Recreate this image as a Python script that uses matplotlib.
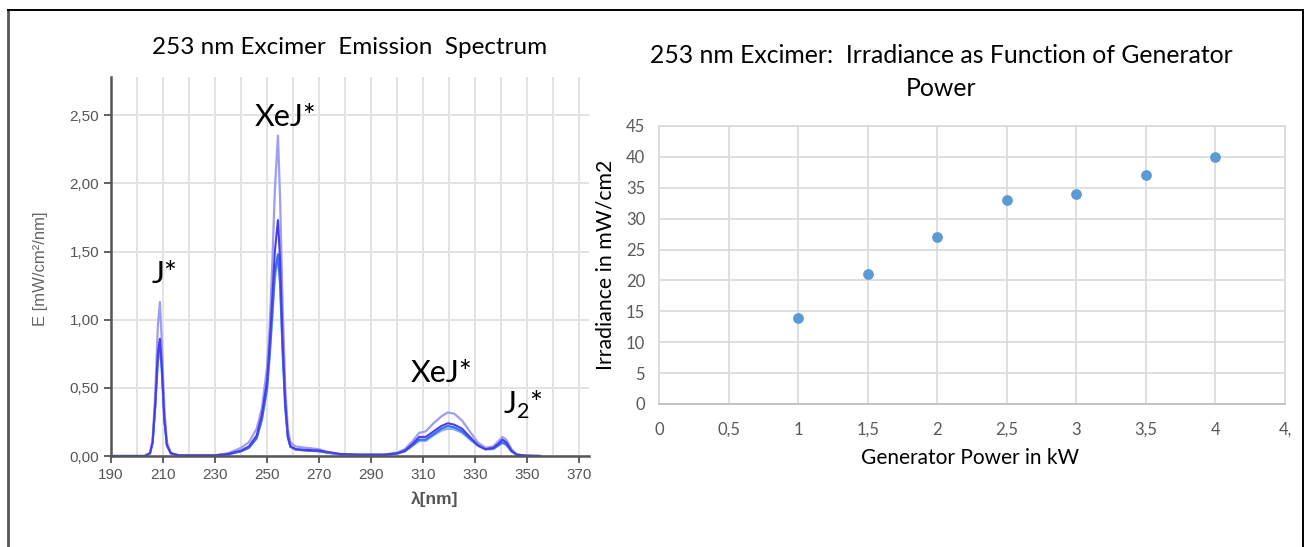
import matplotlib
matplotlib.use("Agg")
import matplotlib.pyplot as plt
from matplotlib.lines import Line2D
from matplotlib.ticker import FuncFormatter, MultipleLocator

# ---------------- data: spectrum ----------------
wavelength_nm = [190, 203, 205, 206, 207, 208, 208.8, 209.5, 210.5, 211.5, 213, 216,
                 230, 235, 240, 243, 246, 248, 250, 251, 252, 253, 254.2, 255, 256, 257,
                 258, 259, 261, 265, 270, 273, 278, 285, 295, 300, 303, 306, 308.5, 311,
                 314, 317, 319.5, 322, 325, 328, 331, 334, 337, 339, 340.5, 342, 344,
                 346, 350, 355]
spec_lavender = [0, 0, 0.02, 0.12, 0.45, 0.95, 1.13, 0.85, 0.35, 0.10, 0.02, 0.005,
                 0.005, 0.02, 0.06, 0.10, 0.20, 0.35, 0.65, 0.95, 1.40, 1.95, 2.35, 1.90, 1.10, 0.50,
                 0.20, 0.10, 0.07, 0.06, 0.05, 0.03, 0.015, 0.01, 0.01, 0.025, 0.05, 0.11, 0.17, 0.18,
                 0.24, 0.29, 0.32, 0.31, 0.26, 0.18, 0.10, 0.06, 0.07, 0.11, 0.14, 0.12, 0.05,
                 0.01, 0.002, 0]
spec_violet = [0, 0, 0.02, 0.10, 0.38, 0.75, 0.86, 0.68, 0.28, 0.08, 0.02, 0.005,
               0.005, 0.015, 0.04, 0.07, 0.15, 0.30, 0.55, 0.82, 1.15, 1.50, 1.73, 1.45, 0.85, 0.40,
               0.15, 0.07, 0.05, 0.045, 0.04, 0.03, 0.015, 0.01, 0.01, 0.02, 0.04, 0.09, 0.14, 0.14,
               0.18, 0.22, 0.24, 0.23, 0.20, 0.14, 0.08, 0.05, 0.06, 0.09, 0.12, 0.10, 0.04,
               0.01, 0.002, 0]
spec_blue = [0, 0, 0.02, 0.10, 0.37, 0.72, 0.84, 0.66, 0.27, 0.08, 0.02, 0.005,
             0.005, 0.012, 0.035, 0.06, 0.13, 0.27, 0.50, 0.75, 1.05, 1.35, 1.48, 1.30, 0.78, 0.36,
             0.14, 0.07, 0.05, 0.04, 0.035, 0.025, 0.012, 0.008, 0.008, 0.018, 0.035, 0.08, 0.12, 0.12,
             0.16, 0.20, 0.22, 0.21, 0.18, 0.13, 0.08, 0.05, 0.055, 0.08, 0.10, 0.085, 0.035,
             0.01, 0.002, 0]
spec_sky = [0, 0, 0.02, 0.10, 0.35, 0.68, 0.80, 0.63, 0.26, 0.08, 0.02, 0.005,
            0.005, 0.012, 0.035, 0.06, 0.13, 0.26, 0.48, 0.72, 1.00, 1.30, 1.45, 1.25, 0.75, 0.35,
            0.13, 0.065, 0.045, 0.04, 0.035, 0.025, 0.012, 0.008, 0.008, 0.017, 0.033, 0.075, 0.11, 0.11,
            0.15, 0.185, 0.20, 0.195, 0.17, 0.12, 0.075, 0.048, 0.05, 0.075, 0.095, 0.08, 0.033,
            0.01, 0.002, 0]

spec_xticks = [190, 210, 230, 250, 270, 290, 310, 330, 350, 370]
spec_yticks = [0.0, 0.5, 1.0, 1.5, 2.0, 2.5]

# ---------------- data: irradiance ----------------
power_kw = [1, 1.5, 2, 2.5, 3, 3.5, 4]
irradiance = [14, 21, 27, 33, 34, 37, 40]
power_ticks = [0, 0.5, 1, 1.5, 2, 2.5, 3, 3.5, 4, 4.5]
power_labels = ["0", "0,5", "1", "1,5", "2", "2,5", "3", "3,5", "4", "4,"]
irr_ticks = [0, 5, 10, 15, 20, 25, 30, 35, 40, 45]

W, H = 1308, 547
fig = plt.figure(figsize=(W / 100, H / 100), dpi=100)
fig.patch.set_facecolor("white")

def fx(px):
    return px / W

def fy(py):
    return 1 - py / H

CAL = ["Lato", "DejaVu Sans"]
NARROW = ["Liberation Sans Narrow", "Liberation Sans", "DejaVu Sans"]

# ---------------- left: spectrum ----------------
ax1 = fig.add_axes([fx(111), fy(456), fx(589) - fx(111), fy(77) - fy(456)])
for y, c, lw in [(spec_sky, "#7fb2f7", 1.5), (spec_blue, "#3b6ef2", 1.6),
                 (spec_lavender, "#9d9df5", 1.6), (spec_violet, "#4a3de6", 1.5)]:
    ax1.plot(wavelength_nm, y, color=c, lw=lw, solid_joinstyle="round")
ax1.set_xlim(190, 373.8)
ax1.set_ylim(0, 2.78)
ax1.xaxis.set_minor_locator(MultipleLocator(10))
ax1.set_xticks(spec_xticks)
ax1.set_yticks(spec_yticks)
ax1.yaxis.set_major_formatter(FuncFormatter(lambda v, p: f"{v:.2f}".replace(".", ",")))
ax1.grid(True, which="both", axis="x", color="#e3e3e3", lw=1.4)
ax1.grid(True, which="major", axis="y", color="#e3e3e3", lw=1.4)
ax1.set_axisbelow(True)
for s in ["top", "right"]:
    ax1.spines[s].set_visible(False)
for s in ["left", "bottom"]:
    ax1.spines[s].set_color("#555555")
    ax1.spines[s].set_linewidth(1.8)
ax1.tick_params(axis="both", which="major", length=5, width=1.3, color="#555555",
                labelcolor="#555555", labelsize=11)
ax1.tick_params(axis="x", which="minor", length=0)
for lab in ax1.get_xticklabels() + ax1.get_yticklabels():
    lab.set_family(NARROW)
fig.text(fx(40), fy(269), "E [mW/cm²/nm]", rotation=90, ha="center", va="center",
         color="#666666", fontsize=12, family=NARROW)
fig.text(fx(435), fy(499), "λ[nm]", ha="center", va="center", color="#555555",
         fontsize=12.5, family=NARROW, fontweight="bold")

fig.text(fx(350), fy(47), "253 nm Excimer  Emission  Spectrum", ha="center", va="center",
         fontsize=17.5, family=CAL, color="black")
ann = dict(ha="center", va="center", fontsize=22, family=CAL, color="black")
fig.text(fx(286), fy(117), "XeJ*", **ann)
fig.text(fx(165), fy(274), "J*", **ann)
fig.text(fx(442), fy(373), "XeJ*", **ann)
fig.text(fx(523), fy(405), r"J$_{\mathregular{2}}$*", **ann)

# ---------------- right: irradiance ----------------
ax2 = fig.add_axes([fx(659), fy(404), fx(1285) - fx(659), fy(126) - fy(404)])
ax2.scatter(power_kw, irradiance, s=60, color="#5b9bd5", zorder=3, linewidths=0)
ax2.set_xlim(0, 4.5)
ax2.set_ylim(0, 45)
ax2.set_xticks(power_ticks)
ax2.set_xticklabels(power_labels)
ax2.set_yticks(irr_ticks)
ax2.grid(True, color="#d9d9d9", lw=1.2)
ax2.set_axisbelow(True)
for s in ["top", "right", "left"]:
    ax2.spines[s].set_color("#d9d9d9")
    ax2.spines[s].set_linewidth(1.2)
ax2.spines["bottom"].set_color("#bfbfbf")
ax2.spines["bottom"].set_linewidth(1.3)
ax2.tick_params(axis="both", length=0, labelcolor="#595959", labelsize=12)
ax2.tick_params(axis="x", pad=13)
ax2.tick_params(axis="y", pad=10)
for lab in ax2.get_xticklabels() + ax2.get_yticklabels():
    lab.set_family(CAL)
fig.text(fx(606), fy(265), "Irradiance in mW/cm2", rotation=90, ha="center", va="center",
         fontsize=15.3, family=CAL, color="black")
fig.text(fx(970), fy(458), "Generator Power in kW", ha="center", va="center",
         fontsize=15, family=CAL, color="black")
fig.text(fx(941), fy(55), "253 nm Excimer:  Irradiance as Function of Generator",
         ha="center", va="center", fontsize=17.8, family=CAL, color="black")
fig.text(fx(941), fy(88), "Power", ha="center", va="center", fontsize=17.8, family=CAL,
         color="black")

# ---------------- outer frame ----------------
fig.add_artist(Line2D([fx(8), fx(8)], [fy(10), 0], color="#555555", lw=2.0,
                      transform=fig.transFigure))
fig.add_artist(Line2D([fx(8), fx(1303)], [fy(10), fy(10)], color="black", lw=1.4,
                      transform=fig.transFigure))
fig.add_artist(Line2D([fx(1303), fx(1303)], [fy(10), 0], color="black", lw=1.4,
                      transform=fig.transFigure))

fig.savefig("out.png", dpi=100)
